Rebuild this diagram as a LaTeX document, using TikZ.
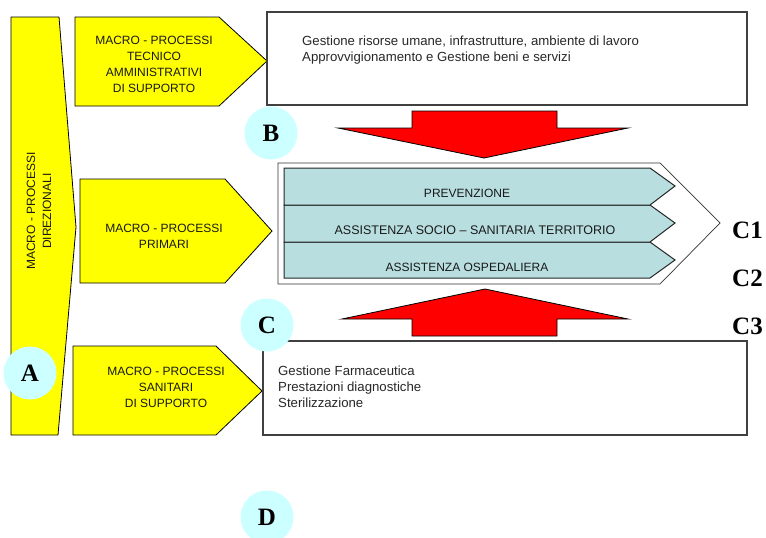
\documentclass[tikz,border=0pt]{standalone}
\usepackage{fontspec}
\setmainfont{Liberation Serif}
\newfontfamily\procfont{Liberation Sans}
\usetikzlibrary{positioning}

\definecolor{procyellow}{RGB}{255,255,0}
\definecolor{letterblue}{RGB}{204,255,255}
\definecolor{barblue}{RGB}{184,222,224}
\definecolor{txtgrey}{RGB}{40,40,40}

\begin{document}
\begin{tikzpicture}[x=1pt,y=-1pt,
    proc/.style={draw=black,fill=procyellow,line width=0.8pt},
    arrowred/.style={draw=black,fill=red,line width=0.8pt},
    bar/.style={draw=black!85,fill=barblue,line width=1pt},
    plainbox/.style={draw=black!75,fill=white,line width=1.1pt},
    proctext/.style={font=\procfont\fontsize{12}{16}\selectfont,text=black!90,align=center,inner sep=0pt},
    listtext/.style={font=\procfont\fontsize{13.2}{16}\selectfont,text=txtgrey,align=left,inner sep=0pt,anchor=north west},
    letter/.style={circle,fill=letterblue,minimum size=53pt,inner sep=0pt,font=\bfseries\fontsize{25}{25}\selectfont},
    outcome/.style={font=\bfseries\fontsize{25}{25}\selectfont,anchor=west,inner sep=0pt}]
  \useasboundingbox (0,0) rectangle (766,538);

  % macro-processi direzionali
  \draw[proc] (11,17) -- (59,17) -- (76,227) -- (58,435) -- (11,435) -- cycle;
  \node[proctext,rotate=90] (dirtext) at (39,211) {MACRO - PROCESSI\\DIREZIONALI};

  % yellow process arrows
  \draw[proc] (75,17) -- (219,17) -- (267,61) -- (219,106) -- (75,106) -- cycle;
  \node[proctext] (tecnico) at (154,64) {MACRO - PROCESSI\\TECNICO\\AMMINISTRATIVI\\DI SUPPORTO};
  \draw[proc] (80,179) -- (225,179) -- (272,231) -- (225,283) -- (80,283) -- cycle;
  \node[proctext] (primari) at (164,236) {MACRO - PROCESSI\\PRIMARI};
  \draw[proc] (73,346) -- (216,346) -- (262,391) -- (216,435) -- (73,435) -- cycle;
  \node[proctext] (sanitari) at (166,387) {MACRO - PROCESSI\\SANITARI\\DI SUPPORTO};

  % white boxes
  \draw[plainbox] (267,12) rectangle (747,105);
  \node[listtext] (gestione) at (302,35.5) {Gestione risorse umane, infrastrutture, ambiente di lavoro\\Approvvigionamento e Gestione beni e servizi};
  \draw[plainbox] (263,341) rectangle (747,435);
  \node[listtext] (farmacia) at (278,365.5) {Gestione Farmaceutica\\Prestazioni diagnostiche\\Sterilizzazione};

  % primary processes
  \draw[draw=black!80,fill=white,line width=0.7pt] (278,163) -- (660,163) -- (720,223) -- (660,284) -- (278,284) -- cycle;
  \draw[bar] (284,242) -- (650,242) -- (675,260) -- (650,278) -- (284,278) -- cycle;
  \draw[bar] (284,205) -- (650,205) -- (675,223) -- (650,242) -- (284,242) -- cycle;
  \draw[bar] (284,168) -- (650,168) -- (675,186) -- (650,205) -- (284,205) -- cycle;
  \node[proctext] (prev) at (467,193) {PREVENZIONE};
  \node[proctext,font=\procfont\fontsize{12.5}{16}\selectfont] (socio) at (475,230) {ASSISTENZA SOCIO – SANITARIA TERRITORIO};
  \node[proctext] (osp) at (467,267) {ASSISTENZA OSPEDALIERA};

  % red arrows
  \draw[arrowred] (412,111) -- (557,111) -- (557,128) -- (628,128) -- (484,158) -- (338,128) -- (412,128) -- cycle;
  \draw[arrowred] (412,336) -- (557,336) -- (557,319) -- (628,319) -- (485,289) -- (342,319) -- (412,319) -- cycle;

  % letters
  \node[letter] (A) at (30,373) {A};
  \node[letter] (B) at (271,133) {B};
  \node[letter] (C) at (267,325) {C};
  \node[letter] (D) at (267,517) {D};
  \node[outcome] (C1) at (732,230) {C1};
  \node[outcome] (C2) at (732,278) {C2};
  \node[outcome] (C3) at (732,326) {C3};
\end{tikzpicture}
\end{document}
